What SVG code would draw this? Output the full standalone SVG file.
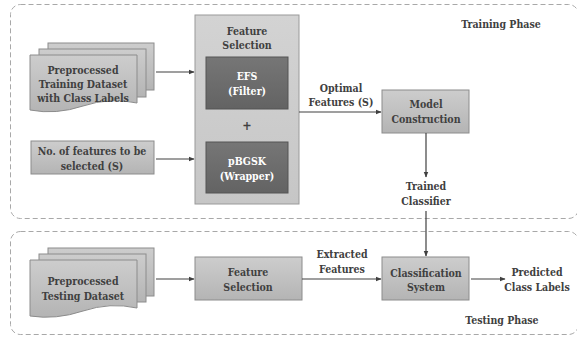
<svg xmlns="http://www.w3.org/2000/svg" width="577" height="338" viewBox="0 0 577 338">
<defs>
<linearGradient id="gLight" x1="0" y1="0" x2="0" y2="1">
<stop offset="0" stop-color="#cdcdcd"/>
<stop offset="1" stop-color="#b4b4b4"/>
</linearGradient>
<linearGradient id="gPanel" x1="0" y1="0" x2="0" y2="1">
<stop offset="0" stop-color="#d3d3d3"/>
<stop offset="1" stop-color="#c6c6c6"/>
</linearGradient>
<linearGradient id="gDark" x1="0" y1="0" x2="0" y2="1">
<stop offset="0" stop-color="#767676"/>
<stop offset="1" stop-color="#636363"/>
</linearGradient>
<marker id="arr" viewBox="0 0 10 10" refX="9" refY="5" markerWidth="6" markerHeight="6" orient="auto" markerUnits="userSpaceOnUse">
<path d="M0,1 L10,5 L0,9 Z" fill="#404040"/>
</marker>
</defs>
<style>
text{font-family:'DejaVu Serif Condensed','DejaVu Serif','Liberation Serif',serif;font-weight:bold;font-size:10.5px;fill:#404040;text-anchor:middle}
.w{fill:#ffffff}
.box{fill:url(#gLight);stroke:#8c8c8c;stroke-width:1}
.panel{fill:url(#gPanel);stroke:#9a9a9a;stroke-width:1}
.dark{fill:url(#gDark);stroke:#555555;stroke-width:1}
.phase{fill:none;stroke:#a8a8a8;stroke-width:1;stroke-dasharray:5,3}
.con{fill:none;stroke:#404040;stroke-width:1.2}
</style>

<g id="training-phase">
<rect class="phase" x="10.5" y="4.5" width="568" height="214" rx="10"/>
<text x="501" y="28">Training Phase</text>
</g>
<g id="testing-phase">
<rect class="phase" x="10.5" y="231.5" width="568" height="103" rx="10"/>
<text x="502" y="324">Testing Phase</text>
</g>

<g id="training-dataset">
<rect class="box" x="48" y="43" width="106" height="47"/>
<rect class="box" x="39" y="49" width="107" height="48"/>
<path class="box" d="M30,55 H137 V103 Q110,97 83,106 T30,110 Z"/>
<text x="83" y="74">Preprocessed</text>
<text x="83" y="88">Training Dataset</text>
<text x="83" y="102">with Class Labels</text>
</g>

<g id="num-features">
<rect class="box" x="31" y="141" width="123" height="33"/>
<text x="92" y="155">No. of features to be</text>
<text x="92" y="170">selected (S)</text>
</g>

<g id="feature-selection-panel">
<rect class="panel" x="195" y="15" width="104" height="189"/>
<text x="247" y="35">Feature</text>
<text x="247" y="49">Selection</text>
</g>
<g id="efs">
<rect class="dark" x="206" y="57" width="82" height="52"/>
<text class="w" x="247" y="80">EFS</text>
<text class="w" x="247" y="95">(Filter)</text>
</g>
<g id="plus">
<text x="247" y="130" style="font-size:12.5px">+</text>
</g>
<g id="pbgsk">
<rect class="dark" x="206" y="142" width="82" height="51"/>
<text class="w" x="247" y="165">pBGSK</text>
<text class="w" x="247" y="180">(Wrapper)</text>
</g>

<g id="model-construction">
<rect class="box" x="382" y="90" width="87" height="43"/>
<text x="426" y="108">Model</text>
<text x="426" y="123">Construction</text>
</g>

<g id="trained-classifier">
<text x="426" y="190">Trained</text>
<text x="426" y="205">Classifier</text>
</g>

<g id="testing-dataset">
<rect class="box" x="48" y="248" width="106" height="48"/>
<rect class="box" x="39" y="254" width="107" height="48"/>
<path class="box" d="M30,260 H137 V308 Q110,302 83,311 T30,316 Z"/>
<text x="83" y="285">Preprocessed</text>
<text x="83" y="300">Testing Dataset</text>
</g>

<g id="feature-selection-test">
<rect class="box" x="195" y="257" width="107" height="43"/>
<text x="248" y="276">Feature</text>
<text x="248" y="291">Selection</text>
</g>

<g id="classification-system">
<rect class="box" x="382" y="257" width="87" height="43"/>
<text x="426" y="277">Classification</text>
<text x="426" y="291">System</text>
</g>

<g id="predicted-labels">
<text x="537" y="276">Predicted</text>
<text x="537" y="291">Class Labels</text>
</g>

<g id="connectors">
<line class="con" x1="156" y1="72" x2="194" y2="72" marker-end="url(#arr)"/>
<line class="con" x1="156" y1="159" x2="194" y2="159" marker-end="url(#arr)"/>
<line class="con" x1="299" y1="112" x2="381" y2="112" marker-end="url(#arr)"/>
<text x="341" y="92">Optimal</text>
<text x="341" y="106">Features (S)</text>
<line class="con" x1="426" y1="133" x2="426" y2="177" marker-end="url(#arr)"/>
<line class="con" x1="426" y1="211" x2="426" y2="256" marker-end="url(#arr)"/>
<line class="con" x1="156" y1="279" x2="194" y2="279" marker-end="url(#arr)"/>
<line class="con" x1="302" y1="279" x2="381" y2="279" marker-end="url(#arr)"/>
<text x="342" y="258">Extracted</text>
<text x="342" y="273">Features</text>
<line class="con" x1="471" y1="279" x2="505" y2="279" marker-end="url(#arr)"/>
</g>
</svg>
